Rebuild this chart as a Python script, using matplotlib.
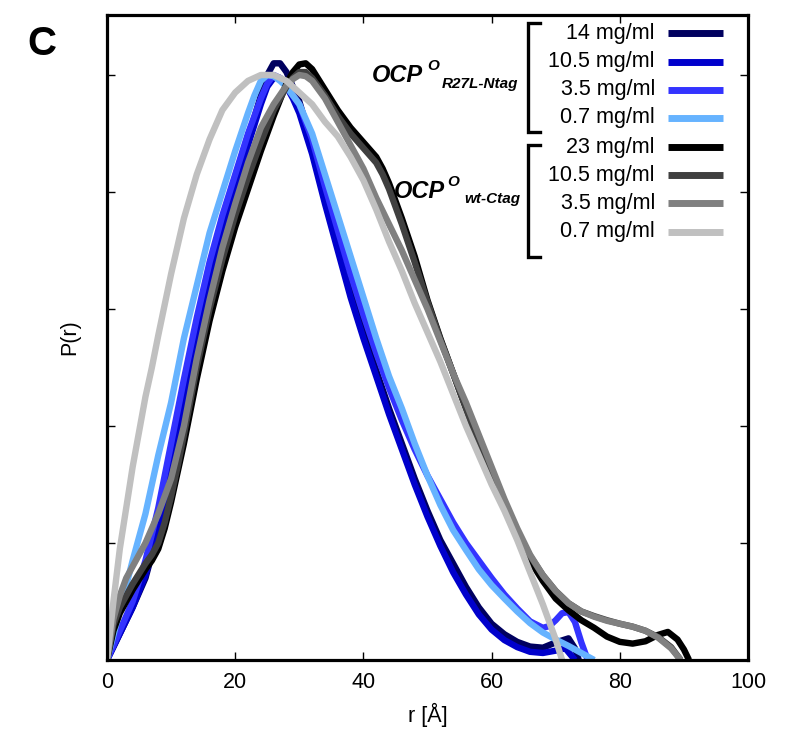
import matplotlib
matplotlib.use('Agg')
import matplotlib.pyplot as plt
from matplotlib.lines import Line2D

plt.rcParams['font.family'] = ['Liberation Sans', 'DejaVu Sans']

# P(r) curves, normalised
r_14 = [0, 2, 4, 6, 8, 10, 12, 14, 16, 18, 20, 22, 24, 25, 26, 27, 28, 29, 30, 32, 34, 36,
        38, 40, 42, 44, 46, 48, 50, 52, 54, 56, 58, 60, 62, 64, 66, 68, 70, 72, 73, 73.6]
p_14 = [0, 0.045, 0.09, 0.14, 0.22, 0.34, 0.46, 0.565, 0.66, 0.745, 0.82, 0.89, 0.965, 1.0,
        1.02, 1.02, 1.005, 0.98, 0.955, 0.88, 0.795, 0.715, 0.635, 0.56, 0.495, 0.43, 0.37,
        0.31, 0.255, 0.205, 0.165, 0.125, 0.09, 0.062, 0.044, 0.031, 0.023, 0.021, 0.03,
        0.037, 0.02, 0]

r_105 = [0, 2, 4, 6, 8, 10, 12, 14, 16, 18, 20, 22, 24, 25, 26, 27, 28, 29, 30, 32, 34, 36,
         38, 40, 42, 44, 46, 48, 50, 52, 54, 56, 58, 60, 62, 64, 66, 68, 70, 71.5, 73]
p_105 = [0, 0.045, 0.09, 0.145, 0.22, 0.33, 0.445, 0.56, 0.655, 0.74, 0.81, 0.88, 0.95, 0.98,
         0.995, 0.995, 0.98, 0.96, 0.935, 0.865, 0.78, 0.7, 0.62, 0.55, 0.485, 0.42, 0.36,
         0.3, 0.245, 0.195, 0.15, 0.112, 0.078, 0.052, 0.034, 0.022, 0.014, 0.012, 0.016,
         0.02, 0]

r_35 = [0, 2, 4, 6, 8, 10, 12, 14, 16, 18, 20, 22, 24, 25, 26, 27, 28, 30, 32, 34, 36, 38,
        40, 42, 44, 46, 48, 50, 52, 54, 56, 58, 60, 62, 64, 66, 68, 69, 70, 71, 72, 73, 74,
        75]
p_35 = [0, 0.05, 0.1, 0.17, 0.26, 0.37, 0.48, 0.585, 0.68, 0.76, 0.83, 0.9, 0.96, 0.985, 1.0,
        0.995, 0.98, 0.95, 0.89, 0.81, 0.735, 0.66, 0.59, 0.525, 0.465, 0.41, 0.36, 0.315,
        0.275, 0.235, 0.2, 0.17, 0.14, 0.112, 0.088, 0.066, 0.055, 0.058, 0.068, 0.08,
        0.082, 0.065, 0.03, 0]

r_07 = [0, 2, 4, 6, 8, 10, 12, 14, 16, 18, 20, 22, 23, 24, 25, 26, 27, 28, 30, 32, 34, 36,
        38, 40, 42, 44, 46, 48, 50, 52, 54, 56, 58, 60, 62, 64, 66, 68, 70, 72, 74, 76]
p_07 = [0, 0.085, 0.17, 0.25, 0.35, 0.44, 0.55, 0.64, 0.73, 0.8, 0.87, 0.935, 0.965, 0.99,
        1.0, 0.998, 0.99, 0.98, 0.95, 0.9, 0.83, 0.76, 0.69, 0.62, 0.55, 0.485, 0.43, 0.37,
        0.315, 0.265, 0.222, 0.188, 0.155, 0.128, 0.105, 0.083, 0.063, 0.047, 0.035, 0.024,
        0.012, 0]

r_wt23 = [0, 1, 2, 4, 6, 7, 8, 9, 10, 11, 12, 14, 16, 18, 20, 22, 24, 26, 28, 29, 30, 31, 32,
          34, 36, 38, 40, 42, 43, 44, 46, 48, 50, 52, 54, 56, 58, 60, 62, 64, 66, 68, 70,
          72, 74, 76, 78, 80, 82, 84, 86, 87.5, 89, 90, 90.8]
p_wt23 = [0, 0.05, 0.08, 0.12, 0.155, 0.17, 0.19, 0.225, 0.27, 0.32, 0.37, 0.48, 0.58, 0.665,
          0.74, 0.805, 0.87, 0.93, 0.985, 1.005, 1.018, 1.02, 1.01, 0.975, 0.94, 0.91, 0.885,
          0.86, 0.84, 0.815, 0.755, 0.69, 0.615, 0.55, 0.49, 0.43, 0.37, 0.32, 0.265, 0.215,
          0.17, 0.135, 0.105, 0.085, 0.068, 0.055, 0.04, 0.031, 0.028, 0.032, 0.043, 0.048,
          0.035, 0.018, 0]

r_wt105 = [0, 1, 2, 4, 6, 7, 8, 9, 10, 11, 12, 14, 16, 18, 20, 22, 24, 26, 28, 29, 30, 31,
           32, 34, 36, 38, 40, 42, 43, 44, 46, 48, 50, 52, 54, 56, 58, 60, 62, 64, 66, 68,
           70, 72, 74, 76, 78, 80, 82, 84, 86, 88, 89.5]
p_wt105 = [0, 0.06, 0.09, 0.13, 0.165, 0.18, 0.2, 0.235, 0.28, 0.33, 0.385, 0.5, 0.6, 0.685,
           0.76, 0.825, 0.885, 0.94, 0.98, 0.995, 1.005, 1.005, 0.995, 0.965, 0.93, 0.9,
           0.875, 0.85, 0.83, 0.805, 0.745, 0.68, 0.612, 0.548, 0.49, 0.43, 0.37, 0.32, 0.27,
           0.22, 0.178, 0.145, 0.118, 0.097, 0.083, 0.075, 0.068, 0.062, 0.057, 0.05, 0.039,
           0.022, 0]

r_wt35 = [0, 1, 2, 3, 4, 5, 6, 8, 10, 12, 14, 16, 18, 20, 22, 24, 26, 28, 29, 30, 31, 32, 34,
          36, 38, 40, 42, 44, 46, 48, 50, 52, 54, 56, 58, 60, 62, 64, 66, 68, 70, 72, 74,
          76, 78, 80, 82, 84, 86, 88, 89.5]
p_wt35 = [0, 0.07, 0.11, 0.14, 0.16, 0.18, 0.2, 0.25, 0.31, 0.4, 0.515, 0.615, 0.705, 0.78,
          0.85, 0.91, 0.95, 0.982, 0.993, 1.0, 0.998, 0.99, 0.96, 0.92, 0.88, 0.84, 0.79,
          0.745, 0.7, 0.65, 0.6, 0.545, 0.49, 0.44, 0.385, 0.33, 0.275, 0.225, 0.18, 0.145,
          0.118, 0.097, 0.083, 0.074, 0.067, 0.062, 0.057, 0.05, 0.038, 0.02, 0]

r_wt07 = [0, 1, 2, 3, 4, 5, 6, 7, 8, 10, 12, 14, 16, 18, 20, 22, 24, 26, 28, 30, 32, 34, 36,
          38, 40, 42, 44, 46, 48, 50, 52, 54, 56, 58, 60, 62, 64, 66, 68, 70, 71]
p_wt07 = [0, 0.1, 0.19, 0.26, 0.33, 0.39, 0.45, 0.5, 0.555, 0.66, 0.755, 0.83, 0.89, 0.94,
          0.97, 0.99, 1.0, 1.0, 0.99, 0.97, 0.95, 0.92, 0.895, 0.86, 0.82, 0.77, 0.715,
          0.665, 0.61, 0.56, 0.51, 0.455, 0.4, 0.35, 0.3, 0.255, 0.205, 0.15, 0.095, 0.035, 0]

series = [
    (r_14, p_14, '#00005f', '14 mg/ml'),
    (r_105, p_105, '#0000cc', '10.5 mg/ml'),
    (r_35, p_35, '#3333ff', '3.5 mg/ml'),
    (r_07, p_07, '#66b3ff', '0.7 mg/ml'),
    (r_wt23, p_wt23, '#000000', '23 mg/ml'),
    (r_wt105, p_wt105, '#404040', '10.5 mg/ml'),
    (r_wt35, p_wt35, '#808080', '3.5 mg/ml'),
    (r_wt07, p_wt07, '#c0c0c0', '0.7 mg/ml'),
]

W, H = 798, 732
fig = plt.figure(figsize=(W / 100, H / 100), dpi=100)
ax = fig.add_axes([107 / W, 1 - 660 / H, 641 / W, 645 / H])


def fx(x, y):
    return x / W, 1 - y / H


for r, p, col, lab in series:
    ax.plot(r, p, color=col, lw=4.6, solid_capstyle='butt', solid_joinstyle='round')

ax.set_xlim(0, 100)
ax.set_ylim(0, 645 / 585)
ax.set_xticks([0, 20, 40, 60, 80, 100])
ax.set_yticks([0.2, 0.4, 0.6, 0.8, 1.0])
ax.set_yticklabels([])
ax.tick_params(direction='in', length=6, width=1, top=True, right=True,
               labelsize=15.5, pad=9)
for s in ax.spines.values():
    s.set_linewidth(2.3)
ax.set_xlabel('r [Å]', fontsize=15.5, labelpad=7)
ax.set_ylabel('P(r)', fontsize=15.5, labelpad=10)

# panel letter
fig.text(*fx(27, 55), 'C', fontsize=29, fontweight='bold', ha='left', va='baseline')

# legend rows
rows_y = [33, 62, 90, 118, 147, 175, 203, 232]
for (r, p, col, lab), yy in zip(series, rows_y):
    fig.text(*fx(655, yy), lab, fontsize=15.5, ha='right', va='center')
    x0, y0 = fx(668, yy)
    x1, _ = fx(723, yy)
    fig.add_artist(Line2D([x0, x1], [y0, y0], color=col, lw=5, solid_capstyle='butt'))

# brackets
for top, bot in [(23, 132), (145, 257)]:
    xs = [540, 528, 528, 540]
    ys = [top, top, bot, bot]
    pts = [fx(a, b) for a, b in zip(xs, ys)]
    fig.add_artist(Line2D([q[0] for q in pts], [q[1] for q in pts], color='black',
                          lw=2.4, solid_joinstyle='miter'))

# group labels
lab_kw = dict(fontweight='bold', fontstyle='italic', ha='left', va='baseline')
fig.text(*fx(372, 82), 'OCP', fontsize=17, **lab_kw)
fig.text(*fx(427, 70), 'O', fontsize=11, **lab_kw)
fig.text(*fx(442, 88), 'R27L-Ntag', fontsize=11, **lab_kw)
fig.text(*fx(394, 198), 'OCP', fontsize=17, **lab_kw)
fig.text(*fx(447, 186), 'O', fontsize=11, **lab_kw)
fig.text(*fx(464, 203), 'wt-Ctag', fontsize=11, **lab_kw)

fig.savefig('out.png', dpi=100)
